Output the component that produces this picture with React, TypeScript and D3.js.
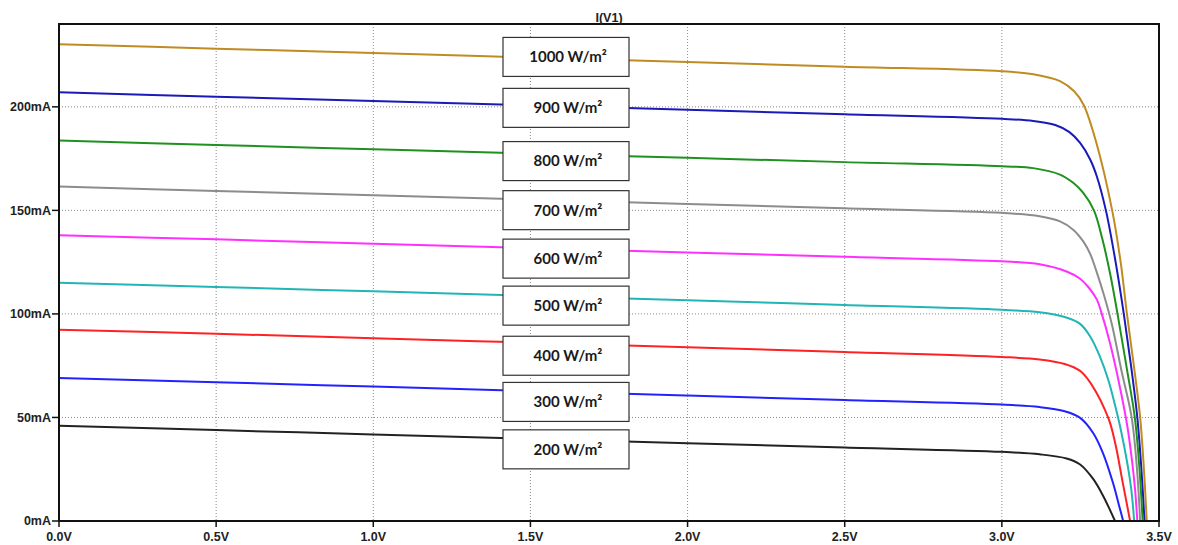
import React from "react";
import * as d3 from "d3";

// ---- data (V, mA) ----
const irradianceLabels = ["1000 W/m²", "900 W/m²", "800 W/m²", "700 W/m²", "600 W/m²", "500 W/m²", "400 W/m²", "300 W/m²", "200 W/m²"];

const curve1000: [number, number][] = [[0,230.2],[0.5,228.1],[1.0,226.0],[1.5,223.8],[2.0,221.6],[2.5,219.4],[3.0,217.2],[3.1,215.7],[3.185,212.4],[3.23,207.5],[3.26,201],[3.3,183],[3.351,150],[3.378,125],[3.398,100],[3.42,75],[3.44,50],[3.452,25],[3.461,0]];
const curve900: [number, number][] = [[0,207],[0.5,204.9],[1.0,202.8],[1.5,200.7],[2.0,198.6],[2.5,196.4],[3.0,194.2],[3.1,193.2],[3.17,191.2],[3.215,187.8],[3.249,182.6],[3.281,174.6],[3.302,166.5],[3.331,150],[3.362,125],[3.388,100],[3.411,75],[3.431,50],[3.444,25],[3.454,0]];
const curve800: [number, number][] = [[0,183.7],[0.5,181.6],[1.0,179.5],[1.5,177.4],[2.0,175.4],[2.5,173.3],[3.0,171.3],[3.1,170.4],[3.185,167.3],[3.227,163.3],[3.259,158.4],[3.293,150],[3.32,136],[3.345,119],[3.368,100],[3.396,75],[3.423,50],[3.438,25],[3.448,0]];
const curve700: [number, number][] = [[0,161.5],[0.5,159.4],[1.0,157.3],[1.5,155.2],[2.0,153.1],[2.5,151],[3.0,148.8],[3.12,147.2],[3.185,144.7],[3.227,140.7],[3.259,135],[3.281,129],[3.3,121],[3.325,109],[3.35,95],[3.38,73],[3.413,50],[3.43,25],[3.44,0]];
const curve600: [number, number][] = [[0,138],[0.5,136],[1.0,133.9],[1.5,131.8],[2.0,129.7],[2.5,127.6],[3.0,125.4],[3.12,124],[3.206,120.5],[3.249,117],[3.275,113],[3.302,107],[3.318,100],[3.344,86],[3.371,68],[3.399,46],[3.415,28],[3.424,15],[3.431,0]];
const curve500: [number, number][] = [[0,115],[0.5,113],[1.0,110.9],[1.5,108.8],[2.0,106.6],[2.5,104.3],[3.0,102],[3.12,100.8],[3.2,98.5],[3.249,95.2],[3.281,89.1],[3.312,79.4],[3.339,68],[3.36,56],[3.38,43],[3.399,28],[3.412,15],[3.421,0]];
const curve400: [number, number][] = [[0,92.4],[0.5,90.4],[1.0,88.3],[1.5,86.1],[2.0,83.9],[2.5,81.6],[3.0,79.2],[3.12,78],[3.2,75.8],[3.249,72.5],[3.275,68.2],[3.302,61.7],[3.328,53.7],[3.344,47.5],[3.363,36],[3.384,19],[3.398,8],[3.408,0]];
const curve300: [number, number][] = [[0,69],[0.5,67],[1.0,64.9],[1.5,62.8],[2.0,60.6],[2.5,58.4],[3.0,56.2],[3.12,55],[3.2,53],[3.249,49.8],[3.291,42.4],[3.322,32.7],[3.354,18.2],[3.372,8],[3.386,0]];
const curve200: [number, number][] = [[0,46],[0.5,43.9],[1.0,41.8],[1.5,39.7],[2.0,37.6],[2.5,35.5],[3.0,33.4],[3.12,32.2],[3.206,30.2],[3.249,27.3],[3.291,20.2],[3.322,12.2],[3.345,5],[3.36,0]];

const seriesData = [curve1000, curve900, curve800, curve700, curve600, curve500, curve400, curve300, curve200];
const labelAnchorsMA = [224.1, 199.5, 173.8, 150.1, 126.7, 104, 79.8, 57.5, 34.6];

const xTicks = [0, 0.5, 1.0, 1.5, 2.0, 2.5, 3.0, 3.5];
const xTickLabels = ["0.0V", "0.5V", "1.0V", "1.5V", "2.0V", "2.5V", "3.0V", "3.5V"];
const yTicks = [0, 50, 100, 150, 200];
const yTickLabels = ["0mA", "50mA", "100mA", "150mA", "200mA"];
const title = "I(V1)";

// ---- styles ----
const colors = ["#bf8c22", "#1a1ab8", "#1e911e", "#8c8c8c", "#ff30ff", "#22b5b5", "#ff2222", "#2222ff", "#222222"];

const W = 1178, H = 545;
const left = 59, right = 1159, top = 24, bottom = 521;

export default function App() {
  const x = d3.scaleLinear().domain([0, 3.5]).range([left, right]);
  const y = d3.scaleLinear().domain([0, 240]).range([bottom, top]);
  const line = d3.line<[number, number]>().x(d => x(d[0])).y(d => y(d[1])).curve(d3.curveCatmullRom.alpha(0.5));
  const axisFont = "'Liberation Sans', Arial, sans-serif";
  const boxX = 503, boxW = 126, boxH = 39;

  return (
    <svg width={W} height={H} style={{ position: "absolute", left: 0, top: 0, background: "#fff" }}>
      <rect x={0} y={0} width={W} height={H} fill="#fff" />
      {/* grid */}
      {xTicks.slice(1, -1).map((t, i) => (
        <line key={"gx" + i} x1={x(t)} x2={x(t)} y1={top} y2={bottom} stroke="#8a8a8a" strokeWidth={1} strokeDasharray="1,2" />
      ))}
      {yTicks.slice(1).map((t, i) => (
        <line key={"gy" + i} x1={left} x2={right} y1={y(t)} y2={y(t)} stroke="#8a8a8a" strokeWidth={1} strokeDasharray="1,2" />
      ))}
      {/* curves */}
      {seriesData.map((s, i) => (
        <path key={"c" + i} d={line(s) || ""} fill="none" stroke={colors[i]} strokeWidth={2} />
      ))}
      {/* label boxes */}
      {irradianceLabels.map((lab, i) => {
        const cy = y(labelAnchorsMA[i]);
        return (
          <g key={"lb" + i}>
            <rect x={boxX} y={cy - boxH / 2} width={boxW} height={boxH} fill="#fff" stroke="#333" strokeWidth={1.2} />
            <text x={boxX + boxW / 2 + 2} y={cy} dy="0.36em" textAnchor="middle" fontFamily="Lato, 'Open Sans', sans-serif" fontWeight="bold" fontSize={15} fill="#1a1a1a">{lab}</text>
          </g>
        );
      })}
      {/* frame */}
      <rect x={left} y={top} width={right - left} height={bottom - top} fill="none" stroke="#111" strokeWidth={2} />
      {/* y ticks */}
      {yTicks.map((t, i) => (
        <g key={"yt" + i}>
          <line x1={left - 7} x2={left} y1={y(t)} y2={y(t)} stroke="#111" strokeWidth={1.5} />
          <text x={left - 8} y={y(t)} dy="0.35em" textAnchor="end" fontFamily={axisFont} fontWeight="bold" fontSize={12.5} fill="#222">{yTickLabels[i]}</text>
        </g>
      ))}
      {/* x ticks */}
      {xTicks.map((t, i) => (
        <g key={"xt" + i}>
          <line x1={x(t)} x2={x(t)} y1={bottom} y2={bottom + 6} stroke="#111" strokeWidth={1.5} />
          <text x={x(t)} y={541} textAnchor="middle" fontFamily={axisFont} fontWeight="bold" fontSize={12.5} fill="#222">{xTickLabels[i]}</text>
        </g>
      ))}
      <text x={(left + right) / 2} y={21.5} textAnchor="middle" fontFamily={axisFont} fontWeight="bold" fontSize={12.5} fill="#222">{title}</text>
    </svg>
  );
}
